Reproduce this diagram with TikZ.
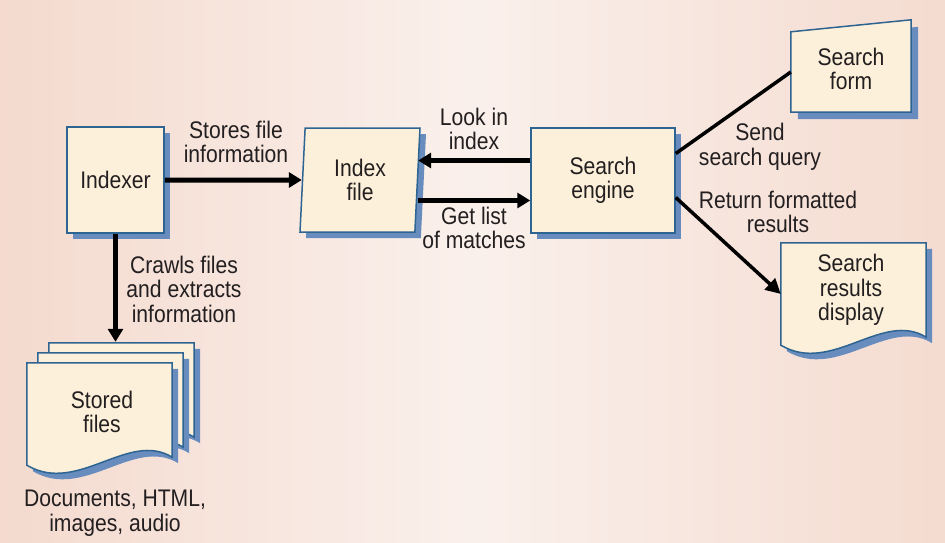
\documentclass[tikz,border=0pt]{standalone}
\usepackage{fontspec}
\setmainfont{Liberation Sans}[FakeStretch=0.88]
\usetikzlibrary{arrows.meta,shapes.geometric,shadows}

\definecolor{paper}{RGB}{253,240,218}
\definecolor{edgeblue}{RGB}{45,100,145}
\definecolor{shadowblue}{RGB}{104,140,190}
\definecolor{bgleft}{RGB}{238,196,178}
\definecolor{bgmid}{RGB}{250,240,235}
\definecolor{bgright}{RGB}{239,199,182}
\definecolor{ink}{RGB}{35,31,32}
\pgfdeclarehorizontalshading{backdrop}{100bp}{color(0bp)=(bgleft); color(50bp)=(bgmid); color(100bp)=(bgright)}

\newcommand{\docshape}[2][]{%
  \draw[#1] (#2.north west) -- (#2.north east) -- ([yshift=8pt]#2.south east)
    .. controls ([xshift=-44pt,yshift=35pt]#2.south east) and ([xshift=51pt,yshift=-30pt]#2.south west) .. (#2.south west) -- cycle;}

\begin{document}
\begin{tikzpicture}[x=1pt,y=-1pt,
  every node/.style={font=\fontsize{24}{24.5}\selectfont, text=ink, align=center},
  box/.style={draw=edgeblue, line width=1.5pt, fill=paper,
    drop shadow={shadow xshift=6pt, shadow yshift=-6pt, fill=shadowblue, opacity=1}},
  page/.style={draw=edgeblue, line width=1.5pt, fill=paper},
  flow/.style={line width=5pt, -{Triangle[length=13pt,width=15pt]}},
  link/.style={line width=3.5pt}]
\shade[shading=backdrop] (0,0) rectangle (945,543);

\node[box, minimum width=97, minimum height=106] (indexer) at (115.5,180) {Indexer};
\node[box, trapezium, trapezium left angle=84, trapezium right angle=96, trapezium stretches body,
  minimum width=120, minimum height=104] (indexfile) at (360,180) {Index\\file};
\node[box, minimum width=144, minimum height=105] (engine) at (603,180.5) {Search\\engine};

\node[inner sep=0pt, minimum width=120, minimum height=80] (form) at (851,72) {};
\path[fill=shadowblue, transform canvas={xshift=7pt,yshift=-7pt}] (form.south west) -- (form.north west)
  -- ([yshift=12pt]form.north east) -- (form.south east) -- cycle;
\draw[page] (form.south west) -- (form.north west) -- ([yshift=12pt]form.north east) -- (form.south east) -- cycle;
\node (formtext) at (851,69) {Search\\form};

\node[inner sep=0pt, minimum width=145, minimum height=102] (display) at (853.5,294) {};
\docshape[fill=shadowblue, draw=none, transform canvas={xshift=6pt,yshift=-6pt}]{display}
\docshape[page]{display}
\node (displaytext) at (851,290) {Search\\results\\display};

\node[inner sep=0pt, minimum width=145, minimum height=102] (stored) at (99.5,414) {};
\foreach \k in {2,1,0} {
  \docshape[fill=shadowblue, draw=none, transform canvas={xshift={\k*11pt+6pt}, yshift={\k*10pt-6pt}}]{stored}
  \docshape[page, transform canvas={xshift={\k*11pt}, yshift={\k*10pt}}]{stored}
}
\node (storedtext) at (102,412) {Stored\\files};
\coordinate (stacktop) at ([yshift=21pt]stored.north);

\coordinate (lookstart) at ([yshift=20pt]engine.west);
\coordinate (getend) at ([yshift=-20pt]engine.west);
\draw[flow] (indexer) -- (indexfile);
\draw[flow] (lookstart) -- (lookstart -| indexfile.east);
\draw[flow] (getend -| indexfile.east) -- (getend);
\draw[flow] (indexer.south) -- (indexer.south |- stacktop);
\draw[link] ([yshift=27pt]engine.east) -- (form.west);
\draw[link, -{Triangle[length=15pt,width=15pt]}] ([yshift=-17pt]engine.east) -- (display.west);

\node (storeslabel) at (236,142) {Stores file\\information};
\node (looklabel) at (474,129) {Look in\\index};
\node (getlabel) at (474,228) {Get list\\of matches};
\node (crawllabel) at (184,289) {Crawls files\\and extracts\\information};
\node (sendlabel) at (760,147) {Send\\search query};
\node (returnlabel) at (778,212) {Return formatted\\results};
\node (storedlabel) at (115,513) {Documents, HTML,\\images, audio};
\end{tikzpicture}
\end{document}
